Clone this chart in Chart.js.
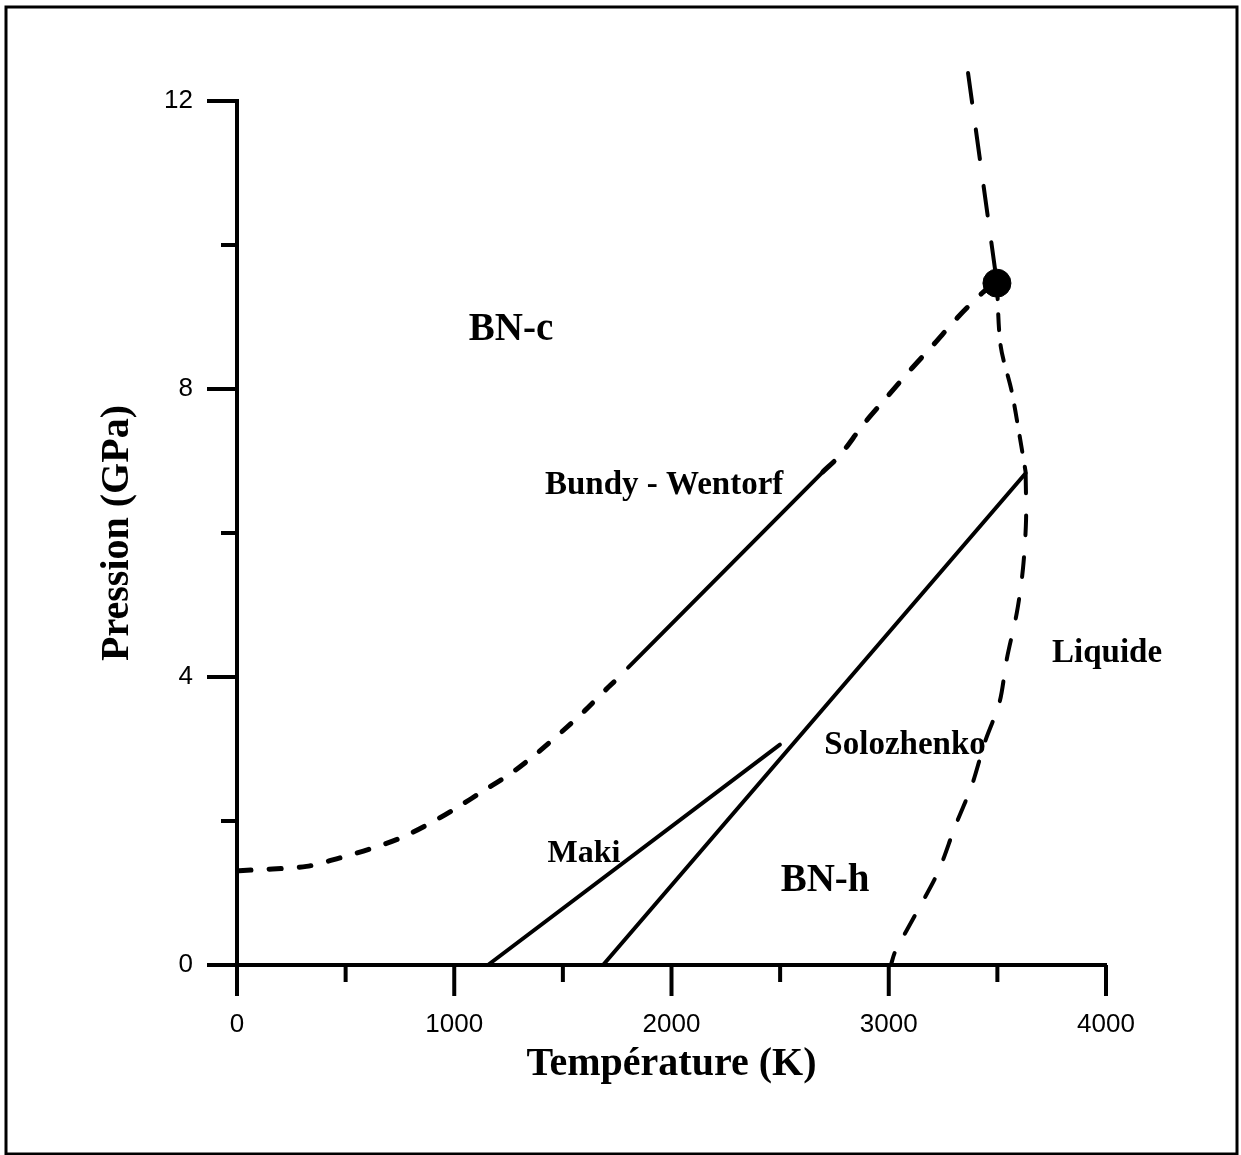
<!DOCTYPE html>
<html>
<head>
<meta charset="utf-8">
<script src="https://cdn.jsdelivr.net/npm/chart.js@4.4.1/dist/chart.umd.min.js"></script>
<style>
  html, body { margin: 0; padding: 0; background: #fff; }
  #wrap { width: 1241px; height: 1155px; }
</style>
</head>
<body>
<div id="wrap"><canvas id="phaseChart" width="1241" height="1155"></canvas></div>
<script>
// Température (K) / Pression (GPa)
const bundyLowT = [10, 320, 475, 610, 750, 890, 1015, 1140, 1265, 1380, 1495, 1600, 1710, 1790];
const bundyLowP = [1.31, 1.37, 1.49, 1.61, 1.76, 1.97, 2.19, 2.43, 2.67, 2.94, 3.24, 3.53, 3.86, 4.08];
const bundySolidT = [1800, 2697];
const bundySolidP = [4.13, 6.85];
const bundyHighT = [2697, 2776, 2881, 2992, 3098, 3204, 3319, 3429, 3480];
const bundyHighP = [6.85, 7.08, 7.50, 7.89, 8.26, 8.61, 9.00, 9.33, 9.45];
const steepT = [3365, 3498];
const steepP = [12.39, 9.47];
const meltTopT = [3498, 3515, 3565, 3600, 3630];
const meltTopP = [9.47, 8.60, 7.98, 7.39, 6.85];
const meltLowT = [3630, 3632, 3618, 3590, 3544, 3510, 3443, 3383, 3305, 3227, 3130, 3029, 3010];
const meltLowP = [6.83, 6.18, 5.51, 4.90, 4.26, 3.65, 3.10, 2.50, 1.92, 1.29, 0.74, 0.18, 0];
const solozhenkoT = [1685, 3630];
const solozhenkoP = [0, 6.83];
const makiT = [1155, 2499];
const makiP = [0, 3.06];
const tripleT = [3498];
const tripleP = [9.47];

const xTicks = [0, 1000, 2000, 3000, 4000];
const yTicks = [0, 4, 8, 12];

const labels = [
    { text: 'BN-c', T: 1261, P: 8.82, size: 39 },
    { text: 'Bundy - Wentorf', T: 1966, P: 6.66, size: 33 },
    { text: 'Liquide', T: 4005, P: 4.33, size: 33 },
    { text: 'Solozhenko', T: 3075, P: 3.05, size: 33 },
    { text: 'Maki', T: 1597, P: 1.55, size: 32 },
    { text: 'BN-h', T: 2707, P: 1.17, size: 39 }
];

function pts(ts, ps) {
    return ts.map((t, i) => ({ x: t, y: ps[i] }));
}

function lineSet(ts, ps, dash, width, tension) {
    return {
        data: pts(ts, ps),
        showLine: true,
        borderColor: '#000',
        borderWidth: width,
        borderDash: dash,
        borderCapStyle: 'round',
        pointRadius: 0,
        tension: tension || 0,
        clip: false
    };
}

const serif = "'Liberation Serif', 'Times New Roman', serif";

const decorPlugin = {
    id: 'decor',
    afterDraw(chart) {
        const ctx = chart.ctx;
        const xs = chart.scales.x, ys = chart.scales.y;
        ctx.save();
        // outer frame
        ctx.strokeStyle = '#000';
        ctx.lineWidth = 3;
        ctx.strokeRect(6, 7, 1231, 1147);

        // tick marks
        ctx.lineWidth = 4;
        ctx.lineCap = 'butt';
        const y0 = ys.getPixelForValue(0);
        for (let t = 0; t <= 4000; t += 500) {
            const px = xs.getPixelForValue(t);
            const len = t % 1000 === 0 ? 31 : 17;
            ctx.beginPath();
            ctx.moveTo(px, y0);
            ctx.lineTo(px, y0 + len);
            ctx.stroke();
        }
        const x0 = xs.getPixelForValue(0);
        for (let p = 0; p <= 12; p += 2) {
            const py = ys.getPixelForValue(p);
            const len = p % 4 === 0 ? 30 : 16;
            ctx.beginPath();
            ctx.moveTo(x0, py);
            ctx.lineTo(x0 - len, py);
            ctx.stroke();
        }

        // region and curve labels
        ctx.fillStyle = '#000';
        ctx.textAlign = 'center';
        ctx.textBaseline = 'middle';
        labels.forEach(l => {
            ctx.font = 'bold ' + l.size + 'px ' + serif;
            ctx.fillText(l.text, xs.getPixelForValue(l.T), ys.getPixelForValue(l.P));
        });
        ctx.restore();
    }
};

new Chart(document.getElementById('phaseChart'), {
    type: 'scatter',
    data: {
        datasets: [
            lineSet(bundyLowT, bundyLowP, [12, 18], 5, 0.3),
            lineSet(bundySolidT, bundySolidP, [], 4),
            lineSet(bundyHighT, bundyHighP, [15, 19], 5, 0.3),
            lineSet(steepT, steepP, [30, 27], 4),
            lineSet(meltTopT, meltTopP, [16, 15], 4, 0.3),
            lineSet(meltLowT, meltLowP, [20, 22], 4, 0.3),
            lineSet(solozhenkoT, solozhenkoP, [], 4),
            lineSet(makiT, makiP, [], 4),
            {
                data: pts(tripleT, tripleP),
                showLine: false,
                pointRadius: 14,
                pointBackgroundColor: '#000',
                pointBorderColor: '#000',
                clip: false
            }
        ]
    },
    options: {
        responsive: false,
        animation: false,
        layout: { padding: { left: 0, top: 101, right: 135, bottom: 0 } },
        plugins: {
            legend: { display: false },
            tooltip: { enabled: false }
        },
        scales: {
            x: {
                type: 'linear',
                min: 0,
                max: 4000,
                afterFit: s => { s.height = 190; },
                border: { display: true, color: '#000', width: 4 },
                grid: { display: false, drawTicks: true, tickLength: 31 },
                ticks: {
                    stepSize: 1000,
                    autoSkip: false,
                    maxRotation: 0,
                    padding: 13,
                    color: '#000',
                    font: { family: "'Liberation Sans', Arial, sans-serif", size: 26 },
                    callback: v => xTicks.includes(v) ? String(v) : ''
                },
                title: {
                    display: true,
                    text: 'Température (K)',
                    color: '#000',
                    font: { family: serif, size: 40, weight: 'bold' },
                    padding: { top: 0, bottom: 66 }
                }
            },
            y: {
                type: 'linear',
                min: 0,
                max: 12,
                afterFit: s => { s.width = 237; },
                border: { display: true, color: '#000', width: 4 },
                grid: { display: false, drawTicks: true, tickLength: 30 },
                ticks: {
                    stepSize: 2,
                    autoSkip: false,
                    padding: 14,
                    color: '#000',
                    font: { family: "'Liberation Sans', Arial, sans-serif", size: 26 },
                    callback: v => yTicks.includes(v) ? String(v) : ''
                },
                title: {
                    display: true,
                    text: 'Pression (GPa)',
                    color: '#000',
                    font: { family: serif, size: 40, weight: 'bold' },
                    padding: { top: 94, bottom: 0 }
                }
            }
        }
    },
    plugins: [decorPlugin]
});
</script>
</body>
</html>
